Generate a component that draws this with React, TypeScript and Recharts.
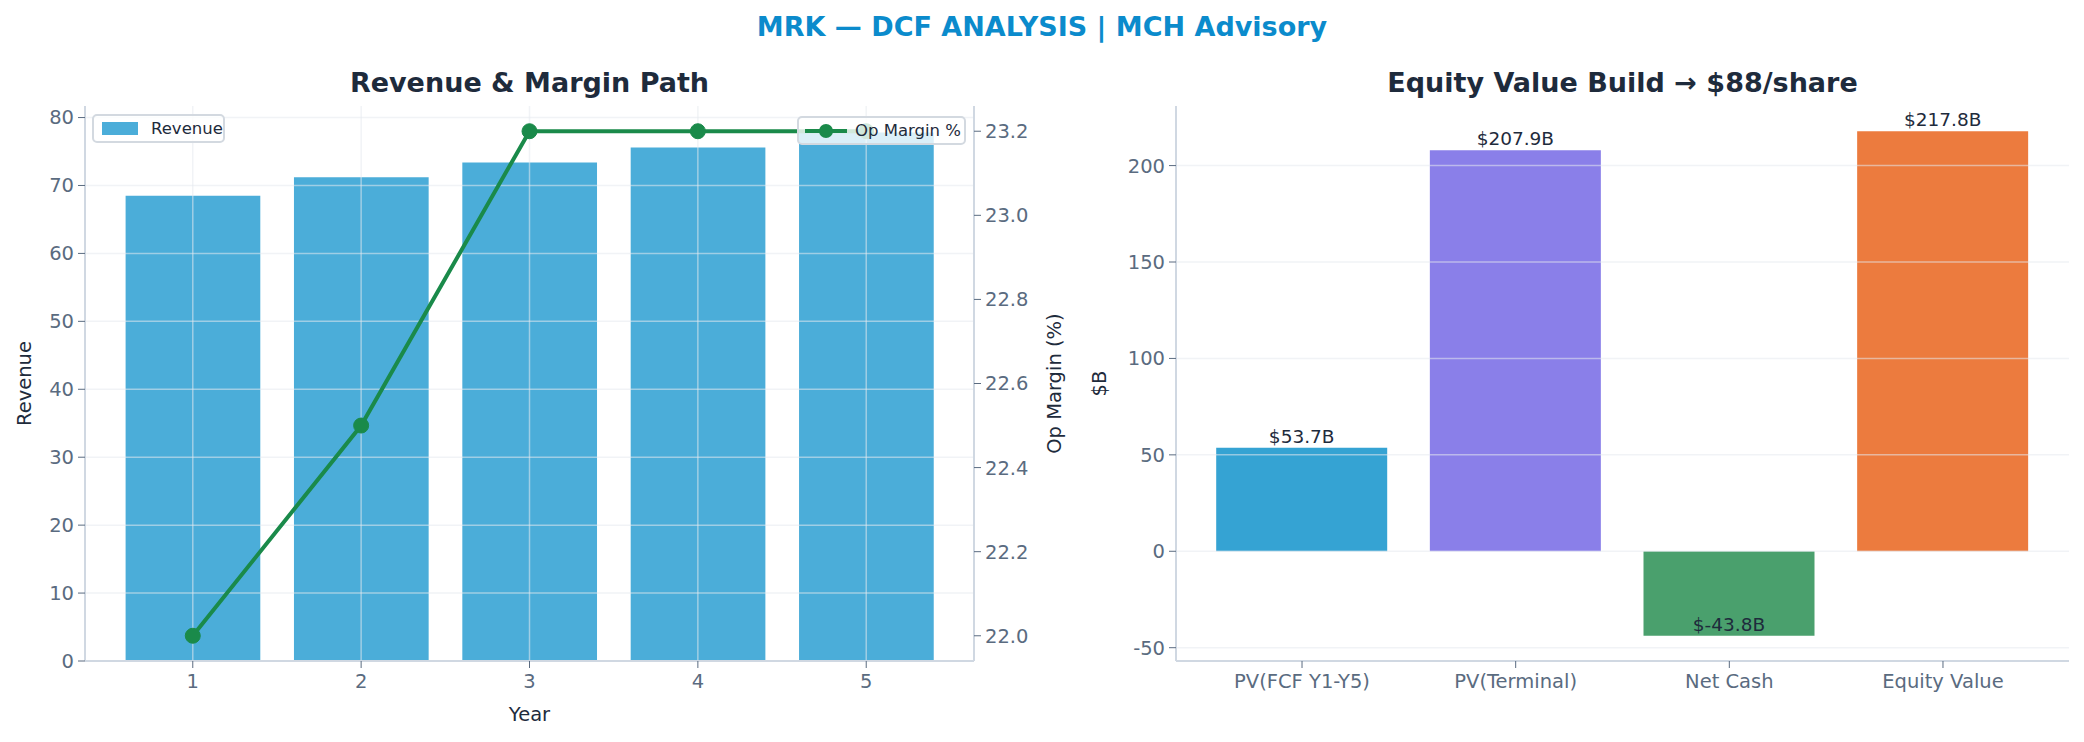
import React from 'react';
import {
  Bar,
  BarChart,
  Cell,
  ComposedChart,
  LabelList,
  Line,
  ReferenceLine,
  XAxis,
  YAxis,
} from 'recharts';

const years = ['1', '2', '3', '4', '5'];
const revenue = [68.5, 71.2, 73.4, 75.6, 77.8];
const opMargin = [22.0, 22.5, 23.2, 23.2, 23.2];
const revenueTicks = [0, 10, 20, 30, 40, 50, 60, 70, 80];
const marginTicks = [22.0, 22.2, 22.4, 22.6, 22.8, 23.0, 23.2];

const buildLabels = ['PV(FCF Y1-Y5)', 'PV(Terminal)', 'Net Cash', 'Equity Value'];
const buildValues = [53.7, 207.9, -43.8, 217.8];
const buildColors = ['#35a3d3', '#8a7fe9', '#4aa06d', '#ec7b3e'];
const buildTicks = [-50, 0, 50, 100, 150, 200];

const FONT = '"DejaVu Sans", sans-serif';
const TICK_COLOR = '#5a6b80';
const SPINE = '#d0d8e2';
const GRID = '#e6eaef';
const DARK = '#1e2b3c';

const pathData = years.map((y, i) => ({ year: y, revenue: revenue[i], margin: opMargin[i] }));
const buildData = buildLabels.map((name, i) => ({ name, value: buildValues[i] }));

const tickStyle = { fontSize: 19.5, fill: TICK_COLOR, fontFamily: FONT };

const AxisTitle = ({ x, y, text, rotate }: { x: number; y: number; text: string; rotate?: boolean }) => (
  <text
    x={x}
    y={y}
    transform={rotate ? `rotate(-90 ${x} ${y})` : undefined}
    textAnchor="middle"
    dominantBaseline="central"
    fontSize={19.5}
    fontFamily={FONT}
    fill={DARK}
  >
    {text}
  </text>
);

const ValueLabel = (props: any) => {
  const { x, y, width, height, value } = props;
  const end = value >= 0 ? Math.min(y, y + height) : Math.max(y, y + height);
  return (
    <text x={x + width / 2} y={end - 5} textAnchor="middle" fontSize={18.5} fontFamily={FONT} fill={DARK}>
      {`$${value.toFixed(1)}B`}
    </text>
  );
};

const legendBox: React.CSSProperties = {
  position: 'absolute',
  boxSizing: 'border-box',
  border: '2px solid #d3d9e0',
  borderRadius: 5,
  background: 'rgba(255,255,255,0.8)',
  display: 'flex',
  alignItems: 'center',
  fontSize: 16.5,
  color: DARK,
  fontFamily: FONT,
};

const titleStyle: React.CSSProperties = {
  position: 'absolute',
  textAlign: 'center',
  fontSize: 27,
  fontWeight: 'bold',
  color: DARK,
  lineHeight: '32px',
};

export default function App() {
  return (
    <div style={{ position: 'absolute', left: 0, top: 0, width: 2084, height: 742, background: '#fff', fontFamily: FONT }}>
      <div style={{ ...titleStyle, left: 0, width: 2084, top: 11, color: '#0b8bcc' }}>
        MRK — DCF ANALYSIS | MCH Advisory
      </div>
      <div style={{ ...titleStyle, left: 85, width: 889, top: 67 }}>
        Revenue &amp; Margin Path
      </div>
      <div style={{ ...titleStyle, left: 1176, width: 893, top: 67 }}>
        Equity Value Build → $88/share
      </div>

      <div style={{ position: 'absolute', left: 0, top: 0 }}>
        <ComposedChart width={1069} height={742} data={pathData} margin={{ top: 106, right: 0, bottom: 0, left: 0 }}>
          <XAxis
            dataKey="year"
            height={81}
            padding={{ left: 23.6, right: 23.6 }}
            tick={tickStyle}
            tickSize={7}
            tickMargin={6}
            tickLine={{ stroke: TICK_COLOR }}
            axisLine={{ stroke: SPINE, strokeWidth: 2 }}
          />
          <XAxis xAxisId="top" dataKey="year" orientation="top" height={0} tick={false} tickLine={false} axisLine={{ stroke: SPINE, strokeWidth: 2 }} />
          <YAxis
            yAxisId="left"
            width={85}
            domain={[0, 81.7]}
            ticks={revenueTicks}
            tick={tickStyle}
            tickSize={7}
            tickMargin={4}
            tickLine={{ stroke: TICK_COLOR }}
            axisLine={{ stroke: SPINE, strokeWidth: 2 }}
          />
          <YAxis
            yAxisId="right"
            orientation="right"
            width={95}
            domain={[21.94, 23.26]}
            ticks={marginTicks}
            tickFormatter={(v: number) => v.toFixed(1)}
            tick={tickStyle}
            tickSize={7}
            tickMargin={4}
            tickLine={{ stroke: TICK_COLOR }}
            axisLine={{ stroke: SPINE, strokeWidth: 2 }}
          />
          <Bar yAxisId="left" dataKey="revenue" fill="#4badd9" barSize={134.7} isAnimationActive={false} />
          {revenueTicks.slice(1).map((t) => (
            <ReferenceLine key={`h${t}`} yAxisId="left" y={t} stroke={GRID} strokeOpacity={0.55} strokeWidth={1.5} />
          ))}
          {years.map((y) => (
            <ReferenceLine key={`v${y}`} yAxisId="left" x={y} stroke={GRID} strokeOpacity={0.55} strokeWidth={1.5} />
          ))}
          <Line
            yAxisId="right"
            dataKey="margin"
            stroke="#1a8a4a"
            strokeWidth={4}
            dot={{ r: 7.5, fill: '#1a8a4a', stroke: '#1a8a4a', strokeWidth: 1 }}
            isAnimationActive={false}
          />
          <AxisTitle x={24} y={383.5} text="Revenue" rotate />
          <AxisTitle x={1054} y={383.5} text="Op Margin (%)" rotate />
          <AxisTitle x={529.5} y={714} text="Year" />
        </ComposedChart>
      </div>

      <div style={{ ...legendBox, left: 92, top: 114, width: 133, height: 29, paddingLeft: 8 }}>
        <span style={{ display: 'inline-block', width: 36, height: 13, background: '#4badd9', marginRight: 13 }} />
        Revenue
      </div>
      <div style={{ ...legendBox, left: 797, top: 116, width: 169, height: 29, paddingLeft: 6 }}>
        <svg width={42} height={16} style={{ marginRight: 8 }}>
          <line x1={0} y1={8} x2={42} y2={8} stroke="#1a8a4a" strokeWidth={4} />
          <circle cx={21} cy={8} r={7} fill="#1a8a4a" />
        </svg>
        Op Margin %
      </div>

      <div style={{ position: 'absolute', left: 1070, top: 0 }}>
        <BarChart width={1014} height={742} data={buildData} margin={{ top: 106, right: 15, bottom: 0, left: 0 }}>
          <XAxis
            dataKey="name"
            height={81}
            padding={{ left: 19.2, right: 19.2 }}
            tick={tickStyle}
            tickSize={7}
            tickMargin={6}
            tickLine={{ stroke: TICK_COLOR }}
            axisLine={{ stroke: SPINE, strokeWidth: 2 }}
          />
          <XAxis xAxisId="top" dataKey="name" orientation="top" height={0} tick={false} tickLine={false} axisLine={{ stroke: SPINE, strokeWidth: 2 }} />
          <YAxis
            width={106}
            domain={[-56.9, 230.9]}
            ticks={buildTicks}
            tick={tickStyle}
            tickSize={7}
            tickMargin={4}
            tickLine={{ stroke: TICK_COLOR }}
            axisLine={{ stroke: SPINE, strokeWidth: 2 }}
          />
          <YAxis yAxisId="edge" orientation="right" width={0} tick={false} tickLine={false} axisLine={{ stroke: SPINE, strokeWidth: 2 }} />
          <Bar dataKey="value" barSize={171} isAnimationActive={false}>
            {buildData.map((d, i) => (
              <Cell key={d.name} fill={buildColors[i]} />
            ))}
            <LabelList dataKey="value" content={ValueLabel} />
          </Bar>
          {buildTicks.map((t) => (
            <ReferenceLine key={`g${t}`} y={t} stroke={GRID} strokeOpacity={0.55} strokeWidth={1.5} />
          ))}
          <AxisTitle x={29} y={383.5} text="$B" rotate />
        </BarChart>
      </div>
    </div>
  );
}
